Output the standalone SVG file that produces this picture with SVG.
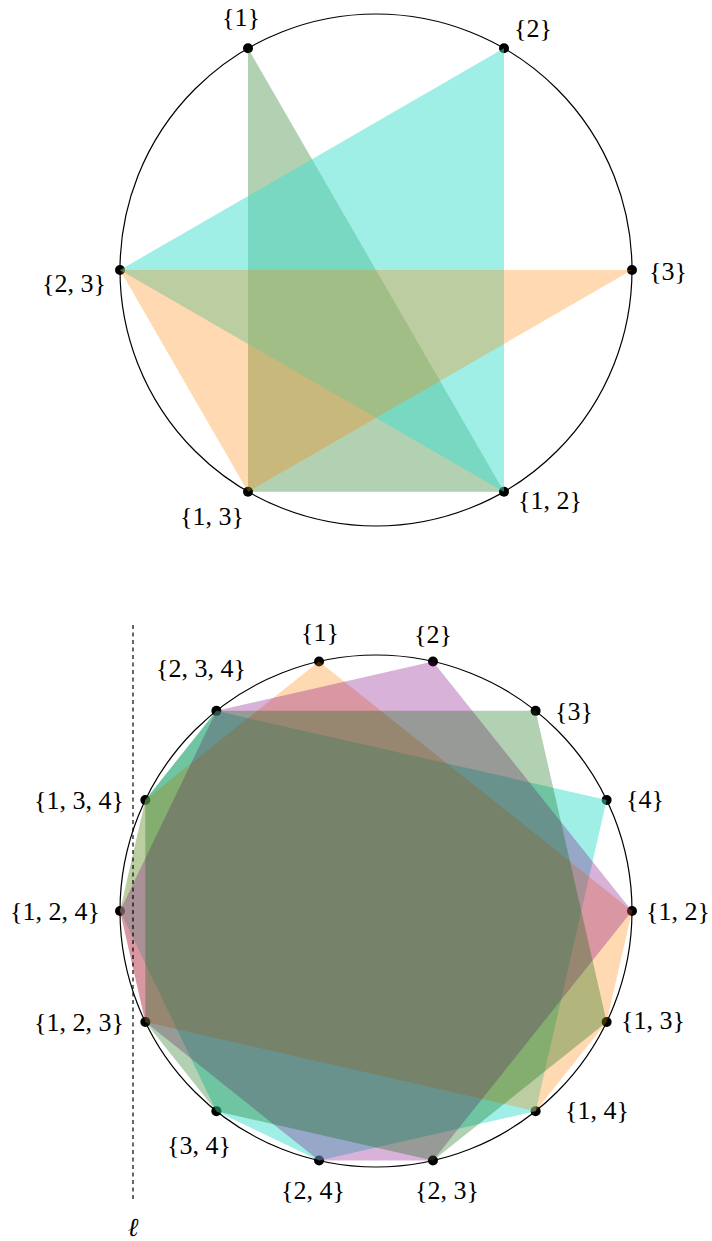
<svg xmlns="http://www.w3.org/2000/svg" width="712" height="1241" viewBox="0 0 712 1241">
<style>
.circ{fill:none;stroke:#000;stroke-width:1.2}
.dot{fill:#000}
.lbl{font-family:"Liberation Serif","DejaVu Serif",serif;font-size:26px;fill:#000;text-anchor:middle}
.g{fill:#006400;fill-opacity:0.3}
.c{fill:#40E0D0;fill-opacity:0.5}
.o{fill:#FF8000;fill-opacity:0.3}
.v{fill:#800080;fill-opacity:0.3}
.line{stroke:#000;stroke-width:1.2;stroke-dasharray:4 3.5;fill:none}
</style>
<rect width="712" height="1241" fill="#fff"/>
<!-- Top diagram -->
<circle class="circ" cx="376" cy="270" r="256"/>
<g id="t-1"><circle class="dot" cx="248" cy="48.3" r="5"/><text class="lbl" x="241" y="26">{1}</text></g>
<g id="t-2"><circle class="dot" cx="504" cy="48.3" r="5"/><text class="lbl" x="533" y="37">{2}</text></g>
<g id="t-3"><circle class="dot" cx="632" cy="270" r="5"/><text class="lbl" x="668" y="280">{3}</text></g>
<g id="t-12"><circle class="dot" cx="504" cy="491.7" r="5"/><text class="lbl" x="550" y="509">{1, 2}</text></g>
<g id="t-13"><circle class="dot" cx="248" cy="491.7" r="5"/><text class="lbl" x="212" y="525">{1, 3}</text></g>
<g id="t-23"><circle class="dot" cx="120" cy="270" r="5"/><text class="lbl" x="74" y="292">{2, 3}</text></g>
<g id="top-regions">
<polygon class="g" points="248,48.3 248,491.7 504,491.7"/>
<polygon class="c" points="504,48.3 120,270 504,491.7"/>
<polygon class="o" points="632,270 120,270 248,491.7"/>
</g>
<!-- Bottom diagram -->
<circle class="circ" cx="376" cy="911" r="256"/>
<g id="b-1"><circle class="dot" cx="319.03" cy="661.42" r="5"/><text class="lbl" x="320" y="641">{1}</text></g>
<g id="b-2"><circle class="dot" cx="432.97" cy="661.42" r="5"/><text class="lbl" x="433" y="643">{2}</text></g>
<g id="b-3"><circle class="dot" cx="535.61" cy="710.85" r="5"/><text class="lbl" x="574" y="720">{3}</text></g>
<g id="b-4"><circle class="dot" cx="606.65" cy="799.93" r="5"/><text class="lbl" x="645" y="808">{4}</text></g>
<g id="b-12"><circle class="dot" cx="632" cy="911" r="5"/><text class="lbl" x="678" y="920">{1, 2}</text></g>
<g id="b-13"><circle class="dot" cx="606.65" cy="1022.07" r="5"/><text class="lbl" x="653" y="1029">{1, 3}</text></g>
<g id="b-14"><circle class="dot" cx="535.61" cy="1111.15" r="5"/><text class="lbl" x="597" y="1119">{1, 4}</text></g>
<g id="b-23"><circle class="dot" cx="432.97" cy="1160.58" r="5"/><text class="lbl" x="447" y="1199">{2, 3}</text></g>
<g id="b-24"><circle class="dot" cx="319.03" cy="1160.58" r="5"/><text class="lbl" x="313" y="1199">{2, 4}</text></g>
<g id="b-34"><circle class="dot" cx="216.39" cy="1111.15" r="5"/><text class="lbl" x="199" y="1154">{3, 4}</text></g>
<g id="b-123"><circle class="dot" cx="145.35" cy="1022.07" r="5"/><text class="lbl" x="79" y="1031">{1, 2, 3}</text></g>
<g id="b-124"><circle class="dot" cx="120" cy="911" r="5"/><text class="lbl" x="55" y="920">{1, 2, 4}</text></g>
<g id="b-134"><circle class="dot" cx="145.35" cy="799.93" r="5"/><text class="lbl" x="79" y="809">{1, 3, 4}</text></g>
<g id="b-234"><circle class="dot" cx="216.39" cy="710.85" r="5"/><text class="lbl" x="201" y="677">{2, 3, 4}</text></g>
<g id="bottom-regions">
<polygon class="c" points="606.65,799.93 216.39,710.85 145.35,799.93 120,911 216.39,1111.15 319.03,1160.58 535.61,1111.15"/>
<polygon class="o" points="319.03,661.42 145.35,799.93 120,911 145.35,1022.07 535.61,1111.15 606.65,1022.07 632,911"/>
<polygon class="v" points="432.97,661.42 216.39,710.85 120,911 145.35,1022.07 319.03,1160.58 432.97,1160.58 632,911"/>
<polygon class="g" points="535.61,710.85 216.39,710.85 145.35,799.93 145.35,1022.07 216.39,1111.15 432.97,1160.58 606.65,1022.07"/>
</g>
<g id="connectors">
<line class="line" x1="133" y1="625" x2="133" y2="1201"/>
</g>
<g id="ell"><text class="lbl" x="133" y="1236" font-style="italic">ℓ</text></g>
</svg>
